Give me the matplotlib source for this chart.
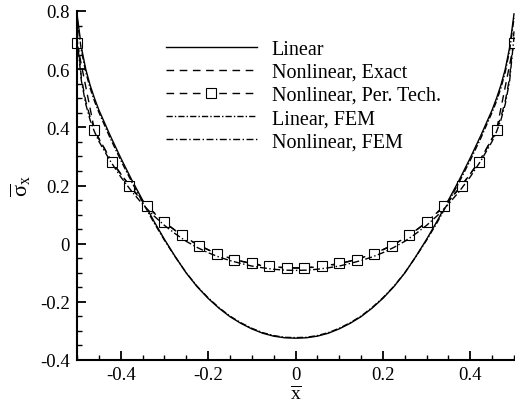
import matplotlib
matplotlib.use("Agg")
import matplotlib.pyplot as plt
from matplotlib.ticker import MultipleLocator

plt.rcParams["font.family"] = ["Liberation Serif", "DejaVu Serif"]
plt.rcParams["mathtext.fontset"] = "custom"
plt.rcParams["mathtext.rm"] = "Liberation Serif"
plt.rcParams["mathtext.it"] = "Liberation Serif"
plt.rcParams["axes.unicode_minus"] = False

# Normalised position along the plate
x_curve = [-0.5, -0.49, -0.48, -0.47, -0.46, -0.45, -0.425, -0.4, -0.375, -0.35,
           -0.325, -0.3, -0.275, -0.25, -0.225, -0.2, -0.175, -0.15, -0.125, -0.1,
           -0.075, -0.05, -0.025, 0.0, 0.025, 0.05, 0.075, 0.1, 0.125, 0.15,
           0.175, 0.2, 0.225, 0.25, 0.275, 0.3, 0.325, 0.35, 0.375, 0.4,
           0.425, 0.45, 0.46, 0.47, 0.48, 0.49, 0.5]

linear = [0.790, 0.675, 0.600, 0.545, 0.500, 0.460, 0.375, 0.295, 0.220, 0.150,
          0.080, 0.015, -0.045, -0.101, -0.148, -0.188, -0.222, -0.251, -0.274, -0.293,
          -0.308, -0.318, -0.3235, -0.325, -0.3235, -0.318, -0.308, -0.293, -0.274, -0.251,
          -0.222, -0.188, -0.148, -0.101, -0.045, 0.015, 0.080, 0.150, 0.220, 0.295,
          0.375, 0.460, 0.500, 0.545, 0.600, 0.675, 0.790]

nonlinear_exact = [0.730, 0.570, 0.490, 0.435, 0.395, 0.360, 0.295, 0.240, 0.190, 0.145,
                   0.107, 0.074, 0.045, 0.019, -0.003, -0.021, -0.037, -0.049, -0.060, -0.069,
                   -0.076, -0.080, -0.083, -0.084, -0.083, -0.080, -0.076, -0.069, -0.060, -0.049,
                   -0.037, -0.021, -0.003, 0.019, 0.045, 0.074, 0.107, 0.145, 0.190, 0.240,
                   0.295, 0.360, 0.395, 0.435, 0.490, 0.570, 0.730]

linear_fem = [0.775, 0.665, 0.590, 0.535, 0.490, 0.452, 0.366, 0.287, 0.213, 0.143,
              0.075, 0.012, -0.046, -0.100, -0.147, -0.186, -0.220, -0.249, -0.272, -0.291,
              -0.306, -0.316, -0.322, -0.323, -0.322, -0.316, -0.306, -0.291, -0.272, -0.249,
              -0.220, -0.186, -0.147, -0.100, -0.046, 0.012, 0.075, 0.143, 0.213, 0.287,
              0.366, 0.452, 0.490, 0.535, 0.590, 0.665, 0.775]

nonlinear_fem = [0.710, 0.560, 0.480, 0.425, 0.385, 0.352, 0.287, 0.230, 0.180, 0.136,
                 0.097, 0.063, 0.034, 0.008, -0.013, -0.031, -0.046, -0.058, -0.068, -0.077,
                 -0.083, -0.088, -0.091, -0.092, -0.091, -0.088, -0.083, -0.077, -0.068, -0.058,
                 -0.046, -0.031, -0.013, 0.008, 0.034, 0.063, 0.097, 0.136, 0.180, 0.230,
                 0.287, 0.352, 0.385, 0.425, 0.480, 0.560, 0.710]

# Perturbation technique, evaluated at coarser stations
x_pert = [-0.5, -0.46, -0.42, -0.38, -0.34, -0.30, -0.26, -0.22, -0.18, -0.14, -0.10, -0.06, -0.02,
          0.02, 0.06, 0.10, 0.14, 0.18, 0.22, 0.26, 0.30, 0.34, 0.38, 0.42, 0.46, 0.5]
pert_tech = [0.69, 0.39, 0.28, 0.20, 0.13, 0.073, 0.029, -0.007, -0.034, -0.055, -0.068, -0.078, -0.083,
             -0.083, -0.078, -0.068, -0.055, -0.034, -0.007, 0.029, 0.073, 0.13, 0.20, 0.28, 0.39, 0.69]

labels = ["Linear", "Nonlinear, Exact", "Nonlinear, Per. Tech.", "Linear, FEM", "Nonlinear, FEM"]

fig = plt.figure(figsize=(5.15, 4.10), dpi=100)
ax = fig.add_axes([77 / 515, 1 - 361 / 410, 437 / 515, 349 / 410])

lw = 1.0
ax.plot(x_curve, linear, color="black", lw=lw, label=labels[0], clip_on=False)
ax.plot(x_curve, nonlinear_exact, color="black", lw=lw, dashes=(5.5, 4.0),
        label=labels[1], clip_on=False)
ax.plot(x_pert, pert_tech, color="black", lw=lw, dashes=(5.5, 4.0), marker="s",
        markersize=7, markerfacecolor="white", markeredgecolor="black",
        markeredgewidth=0.8, label=labels[2], clip_on=False)
ax.plot(x_curve, linear_fem, color="black", lw=lw, dashes=(4.5, 1.5, 1.0, 1.5),
        label=labels[3], clip_on=False)
ax.plot(x_curve, nonlinear_fem, color="black", lw=lw, dashes=(5.0, 1.8, 1.0, 1.8),
        label=labels[4], clip_on=False)

ax.set_xlim(-0.5, 0.5)
ax.set_ylim(-0.4, 0.8)
ax.xaxis.set_minor_locator(MultipleLocator(0.05))
ax.yaxis.set_minor_locator(MultipleLocator(0.05))
ax.set_xticks([-0.4, -0.2, 0, 0.2, 0.4])
ax.set_xticklabels(["-0.4", "-0.2", "0", "0.2", "0.4"])
ax.set_yticks([-0.4, -0.2, 0, 0.2, 0.4, 0.6, 0.8])
ax.set_yticklabels(["-0.4", "-0.2", "0", "0.2", "0.4", "0.6", "0.8"])

for side in ("top", "right"):
    ax.spines[side].set_visible(False)
for side in ("left", "bottom"):
    ax.spines[side].set_linewidth(1.5)
ax.tick_params(which="major", direction="in", length=6.5, width=1.3, labelsize=13.5, pad=5)
ax.tick_params(which="minor", direction="in", length=3.6, width=1.0)
ax.tick_params(axis="x", which="major", pad=4)

ax.set_xlabel(r"$\overline{\mathrm{x}}$", fontsize=14, labelpad=1)
ax.set_ylabel(r"$\overline{\mathrm{\sigma}}_{\mathrm{x}}$", fontsize=16, labelpad=5)

ax.legend(loc="upper left", bbox_to_anchor=(0.185, 0.941), frameon=False, fontsize=14.5,
          handlelength=4.5, handletextpad=0.75, labelspacing=0.2, numpoints=1,
          borderaxespad=0)

fig.savefig("out.png", dpi=100)
